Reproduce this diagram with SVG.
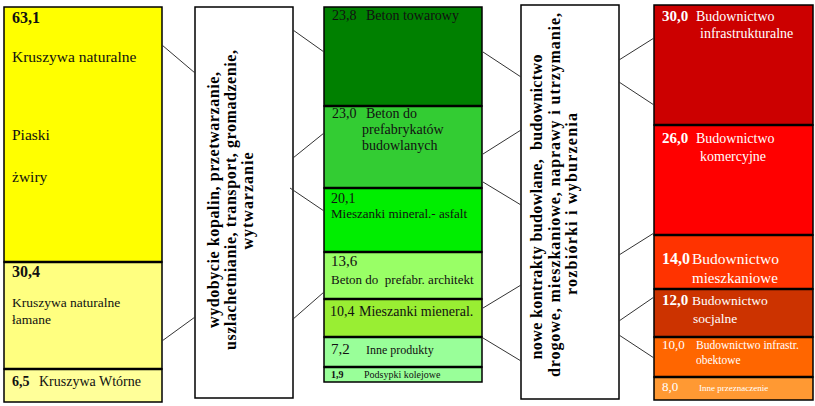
<svg xmlns="http://www.w3.org/2000/svg" width="815" height="406" viewBox="0 0 815 406">
<style>
.bx{stroke:#000;stroke-width:1.5}
.sep{stroke:#000;stroke-width:2.5}
.t{font-family:"Liberation Serif","Times New Roman",serif;fill:#111}
.w{font-family:"Liberation Serif","Times New Roman",serif;fill:#fff}
.b{font-weight:bold}
.rot{font-family:"Liberation Serif","Times New Roman",serif;font-weight:bold;font-size:16px;fill:#000;text-anchor:middle}
.c{stroke:#333;stroke-width:1;fill:none}
</style>
<rect width="815" height="406" fill="#fff"/>

<g id="left-column">
<rect class="bx" x="4" y="7" width="158" height="255" fill="#FFFF00"/>
<rect class="bx" x="4" y="262" width="158" height="107" fill="#FFFF80"/>
<rect class="bx" x="4" y="369" width="158" height="33" fill="#FFFF99"/>
<line class="sep" x1="4" y1="262" x2="162" y2="262"/>
<line class="sep" x1="4" y1="369" x2="162" y2="369"/>
<text class="t b" x="12" y="23" font-size="16">63,1</text>
<text class="t" x="12" y="62" font-size="15.5">Kruszywa naturalne</text>
<text class="t" x="12" y="140" font-size="15.5">Piaski</text>
<text class="t" x="12" y="182" font-size="15.5">żwiry</text>
<text class="t b" x="12" y="277" font-size="16">30,4</text>
<text class="t" x="12" y="307" font-size="13.5">Kruszywa naturalne</text>
<text class="t" x="12" y="324" font-size="13.5">łamane</text>
<text class="t b" x="12" y="386" font-size="14">6,5</text>
<text class="t" x="39" y="386" font-size="14">Kruszywa Wtórne</text>
</g>

<g id="process-box">
<rect class="bx" x="195" y="7" width="98" height="391" fill="#fff"/>
<text class="rot" transform="translate(219,200) rotate(-90)" textLength="256" lengthAdjust="spacing">wydobycie kopalin, przetwarzanie,</text>
<text class="rot" transform="translate(236,200) rotate(-90)" textLength="300" lengthAdjust="spacing">uszlachetnianie, transport, gromadzenie,</text>
<text class="rot" transform="translate(253,201) rotate(-90)" textLength="97" lengthAdjust="spacing">wytwarzanie</text>
</g>

<g id="middle-column">
<rect class="bx" x="324" y="7" width="158" height="99" fill="#008000"/>
<rect class="bx" x="324" y="106" width="158" height="82" fill="#33CC33"/>
<rect class="bx" x="324" y="188" width="158" height="64" fill="#00EE00"/>
<rect class="bx" x="324" y="252" width="158" height="47" fill="#99FF66"/>
<rect class="bx" x="324" y="299" width="158" height="38" fill="#99EE33"/>
<rect class="bx" x="324" y="337" width="158" height="30" fill="#99FF99"/>
<rect class="bx" x="324" y="367" width="158" height="15" fill="#99FF99"/>
<line class="sep" x1="324" y1="106" x2="482" y2="106"/>
<line class="sep" x1="324" y1="188" x2="482" y2="188"/>
<line class="sep" x1="324" y1="252" x2="482" y2="252"/>
<line class="sep" x1="324" y1="299" x2="482" y2="299"/>
<line class="sep" x1="324" y1="337" x2="482" y2="337"/>
<line class="sep" x1="324" y1="367" x2="482" y2="367"/>
<text class="t" x="332" y="20" font-size="14">23,8</text>
<text class="t" x="366" y="20" font-size="14">Beton towarowy</text>
<text class="t" x="332" y="118" font-size="14">23,0</text>
<text class="t" x="366" y="118" font-size="14">Beton do</text>
<text class="t" x="362" y="134" font-size="14">prefabrykatów</text>
<text class="t" x="362" y="150" font-size="14">budowlanych</text>
<text class="t" x="331" y="203" font-size="14">20,1</text>
<text class="t" x="331" y="218" font-size="13">Mieszanki mineral.- asfalt</text>
<text class="t" x="331" y="266" font-size="15">13,6</text>
<text class="t" x="331" y="284" font-size="13" xml:space="preserve">Beton do  prefabr. architekt</text>
<text class="t" x="330" y="316" font-size="14">10,4</text>
<text class="t" x="359" y="316" font-size="14">Mieszanki mieneral.</text>
<text class="t" x="331" y="354" font-size="15">7,2</text>
<text class="t" x="366" y="354" font-size="12">Inne produkty</text>
<text class="t b" x="331" y="378" font-size="10">1,9</text>
<text class="t" x="364" y="378" font-size="10">Podsypki kolejowe</text>
</g>

<g id="construction-box">
<rect class="bx" x="521" y="5" width="98" height="394" fill="#fff"/>
<text class="rot" transform="translate(542,207) rotate(-90)" textLength="305" lengthAdjust="spacing" xml:space="preserve">nowe kontrakty budowlane,  budownictwo</text>
<text class="rot" transform="translate(560,195) rotate(-90)" textLength="364" lengthAdjust="spacing">drogowe, mieszkaniowe, naprawy i utrzymanie,</text>
<text class="rot" transform="translate(577,204) rotate(-90)" textLength="182" lengthAdjust="spacing">rozbiórki i wyburzenia</text>
</g>

<g id="right-column">
<rect class="bx" x="654" y="5" width="159" height="120" fill="#CC0000"/>
<rect class="bx" x="654" y="125" width="159" height="110" fill="#FF0000"/>
<rect class="bx" x="654" y="235" width="159" height="54" fill="#FF3300"/>
<rect class="bx" x="654" y="289" width="159" height="48" fill="#CC3300"/>
<rect class="bx" x="654" y="337" width="159" height="40" fill="#FF6600"/>
<rect class="bx" x="654" y="377" width="159" height="23" fill="#FF9933"/>
<line class="sep" x1="654" y1="125" x2="813" y2="125"/>
<line class="sep" x1="654" y1="235" x2="813" y2="235"/>
<line class="sep" x1="654" y1="289" x2="813" y2="289"/>
<line class="sep" x1="654" y1="337" x2="813" y2="337"/>
<line class="sep" x1="654" y1="377" x2="813" y2="377"/>
<text class="w b" x="662" y="21" font-size="15">30,0</text>
<text class="w" x="696" y="21" font-size="14">Budownictwo</text>
<text class="w" x="700" y="38" font-size="14">infrastrukturalne</text>
<text class="w b" x="662" y="143" font-size="15">26,0</text>
<text class="w" x="696" y="143" font-size="14">Budownictwo</text>
<text class="w" x="700" y="161" font-size="14">komercyjne</text>
<text class="w b" x="662" y="264" font-size="16">14,0</text>
<text class="w" x="692" y="264" font-size="15.5">Budownictwo</text>
<text class="w" x="692" y="283" font-size="15">mieszkaniowe</text>
<text class="w b" x="662" y="305" font-size="15">12,0</text>
<text class="w" x="692" y="305" font-size="13.5">Budownictwo</text>
<text class="w" x="693" y="323" font-size="13.5">socjalne</text>
<text class="w" x="662" y="349" font-size="13">10,0</text>
<text class="w" x="696" y="349" font-size="11.5">Budownictwo infrastr.</text>
<text class="w" x="696" y="364" font-size="11.5">obektowe</text>
<text class="w" x="662" y="391" font-size="13">8,0</text>
<text class="w" x="699" y="391" font-size="9">Inne przeznaczenie</text>
</g>

<g id="connectors">
<line class="c" x1="162" y1="45" x2="195" y2="73"/>
<line class="c" x1="162" y1="341" x2="195" y2="317"/>
<line class="c" x1="293" y1="30" x2="324" y2="52"/>
<line class="c" x1="293" y1="158" x2="324" y2="133"/>
<line class="c" x1="290" y1="188" x2="324" y2="211"/>
<line class="c" x1="292" y1="320" x2="324" y2="292"/>
<line class="c" x1="483" y1="52" x2="521" y2="77"/>
<line class="c" x1="483" y1="154" x2="521" y2="130"/>
<line class="c" x1="483" y1="182" x2="521" y2="205"/>
<line class="c" x1="483" y1="308" x2="521" y2="285"/>
<line class="c" x1="483" y1="338" x2="521" y2="361"/>
<line class="c" x1="619" y1="60" x2="654" y2="38"/>
<line class="c" x1="619" y1="82" x2="654" y2="105"/>
<line class="c" x1="619" y1="255" x2="654" y2="233"/>
<line class="c" x1="619" y1="321" x2="654" y2="297"/>
<line class="c" x1="619" y1="335" x2="654" y2="358"/>
</g>
</svg>
